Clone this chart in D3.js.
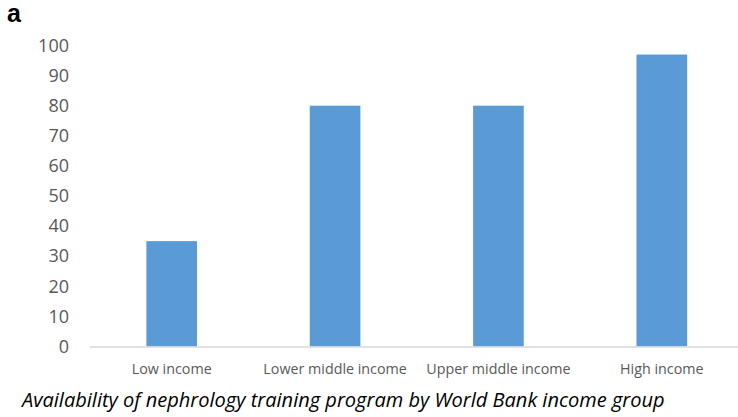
<!DOCTYPE html>
<html>
<head>
<meta charset="utf-8">
<script src="https://cdn.jsdelivr.net/npm/d3@7"></script>
<style>
  html, body { margin: 0; padding: 0; background: #fff; }
  svg { display: block; }
</style>
</head>
<body>
<svg id="chart" width="738" height="417"></svg>
<script>
// Income groups and share of countries with a nephrology training program (%)
const categories = ["Low income", "Lower middle income", "Upper middle income", "High income"];
const values = [35, 80, 80, 97];
const yTicks = [0, 10, 20, 30, 40, 50, 60, 70, 80, 90, 100];
const panelLabel = "a";
const caption = "Availability of nephrology training program by World Bank income group";

const svg = d3.select("#chart");
const W = 738, H = 417;

const x = d3.scaleBand()
  .domain(categories)
  .range([90, 743.5])
  .paddingInner(0.69)
  .paddingOuter(0.345);

const y = d3.scaleLinear()
  .domain([0, 100])
  .range([346.5, 45.5]);

// Bars
svg.append("g")
  .selectAll("rect")
  .data(values)
  .join("rect")
  .attr("x", (d, i) => x(categories[i]))
  .attr("y", d => y(d))
  .attr("width", x.bandwidth())
  .attr("height", d => y(0) - y(d))
  .attr("fill", "#5B9BD5");

// Y axis: labels only
const yAxis = d3.axisLeft(y).tickValues(yTicks).tickSize(0).tickPadding(0);
const gy = svg.append("g").attr("transform", "translate(69,0)").call(yAxis);
gy.select(".domain").remove();
gy.selectAll("text")
  .attr("fill", "#595959")
  .style("font-family", "'Open Sans', 'Noto Sans', sans-serif")
  .style("font-size", "18px");

// X axis: baseline and category labels
const xAxis = d3.axisBottom(x).tickSize(0).tickPadding(0);
const gx = svg.append("g").attr("transform", `translate(0,${y(0)})`).call(xAxis);
gx.select(".domain").remove();
gx.selectAll("text")
  .attr("fill", "#595959")
  .attr("dy", 0)
  .attr("y", 27)
  .style("font-family", "'Open Sans', 'Noto Sans', sans-serif")
  .style("font-size", "14.3px");
svg.append("line")
  .attr("x1", 90).attr("x2", W)
  .attr("y1", y(0) + 0.5).attr("y2", y(0) + 0.5)
  .attr("stroke", "#D9D9D9")
  .attr("stroke-width", 1.5);

// Panel letter
svg.append("text")
  .attr("x", 7).attr("y", 22)
  .style("font-family", "'Liberation Sans', Arial, Helvetica, sans-serif")
  .style("font-weight", "bold")
  .style("font-size", "25px")
  .attr("fill", "#000")
  .text(panelLabel);

// Caption
const cap = svg.append("text")
  .attr("x", 22).attr("y", 407)
  .style("font-family", "'Open Sans', 'Noto Sans', sans-serif")
  .style("font-style", "italic")
  .style("font-size", "18px")
  .attr("fill", "#000")
  .text(caption);
const capLen = cap.node().getComputedTextLength();
cap.style("font-size", (18 * 643 / capLen) + "px");
</script>
</body>
</html>
